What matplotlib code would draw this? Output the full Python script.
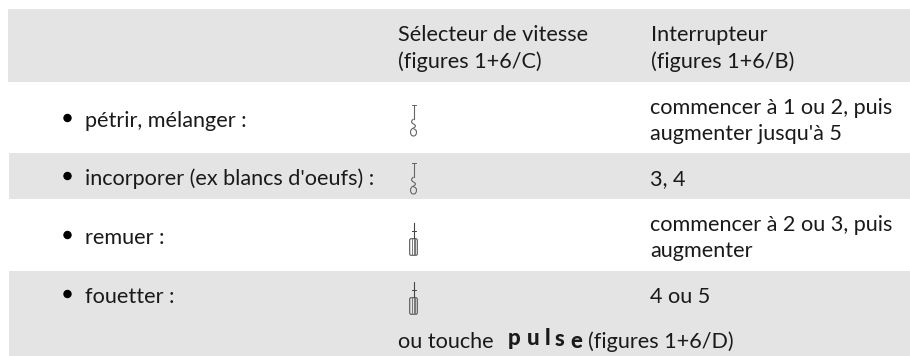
import matplotlib
matplotlib.use("Agg")
import matplotlib.pyplot as plt
from matplotlib.patches import Rectangle, FancyBboxPatch, Circle, PathPatch
from matplotlib.path import Path

BAND = "#e4e4e4"
INK = "#1a1a1a"
FONT = "Lato"
SIZE = 15.55

header_mid = ["Sélecteur de vitesse", "(figures 1+6/C)"]
header_right = ["Interrupteur", "(figures 1+6/B)"]
actions = ["pétrir, mélanger :", "incorporer (ex blancs d'oeufs) :", "remuer :", "fouetter :"]
action_y = [127, 185, 244, 303]
tools = ["hook", "hook", "whisk", "whisk"]
tool_top = [105, 163, 223, 282]
speeds = [["commencer à 1 ou 2, puis", "augmenter jusqu'à 5"], ["3, 4"],
          ["commencer à 2 ou 3, puis", "augmenter"], ["4 ou 5"]]
speed_y = [[114, 140], [185], [231, 257], [303]]
pulse_letters = ["p", "u", "l", "s", "e"]
pulse_x = [508, 527, 545, 555, 570]
pulse_y = [345, 345, 345, 346, 348]

fig = plt.figure(figsize=(9.1, 3.56), dpi=100)
ax = fig.add_axes([0, 0, 1, 1])
ax.set_xlim(0, 910)
ax.set_ylim(356, 0)
ax.axis("off")

# grey bands
ax.add_patch(Rectangle((8, 9), 902, 73, color=BAND, lw=0))
ax.add_patch(Rectangle((9, 153), 901, 46, color=BAND, lw=0))
ax.add_patch(Rectangle((9, 271), 901, 85, color=BAND, lw=0))


def put(x, y, s, **kw):
    ax.text(x, y, s, family=FONT, fontsize=SIZE, color=INK, va="baseline", ha="left", **kw)


def draw_hook(x, top):
    ax.plot([x - 2, x + 2], [top, top], color="#666666", lw=0.7)
    ax.plot([x, x], [top, top + 14], color="#666666", lw=0.8)
    # squiggle, then the small closed loop at the tip
    verts = [(x, top + 14), (x - 4, top + 17), (x, top + 19), (x + 4, top + 21), (x, top + 23),
             (x - 3, top + 24), (x - 3, top + 27), (x - 3, top + 31), (x, top + 31),
             (x + 3, top + 31), (x + 3, top + 27), (x + 3, top + 24), (x, top + 24)]
    codes = [Path.MOVETO] + [Path.CURVE3] * 12
    ax.add_patch(PathPatch(Path(verts, codes), fc="none", ec="#666666", lw=0.8))


def draw_whisk(x, top):
    ax.plot([x, x], [top, top + 15], color="#444444", lw=0.8)
    ax.plot([x - 2, x + 2], [top + 8, top + 8], color="#444444", lw=0.7)
    ax.add_patch(FancyBboxPatch((x - 3.5, top + 16), 7, 16, boxstyle="round,pad=0.3,rounding_size=1.5",
                                fc="none", ec="#555555", lw=0.8))
    for dx in [-1.7, 0, 1.7]:
        ax.plot([x + dx, x + dx], [top + 16, top + 32], color="#777777", lw=0.7)


for i, line in enumerate(header_mid):
    put(398, [41, 68][i], line)
for i, line in enumerate(header_right):
    put(651, [41, 68][i], line)

for i, label in enumerate(actions):
    ax.add_patch(Circle((67.5, action_y[i] - 9), 4.2, color="black", lw=0))
    put(85, action_y[i], label)
    if tools[i] == "hook":
        draw_hook(413.5, tool_top[i])
    else:
        draw_whisk(413.5, tool_top[i])
    for j, line in enumerate(speeds[i]):
        put(650, speed_y[i][j], line)

put(398, 348, "ou touche")
for ch, px, py in zip(pulse_letters, pulse_x, pulse_y):
    ax.text(px, py, ch, family="Lato", fontsize=16, fontweight="black", color=INK, va="baseline", ha="left")
put(588, 348, "(figures 1+6/D)")

fig.savefig("out.png", dpi=100)
